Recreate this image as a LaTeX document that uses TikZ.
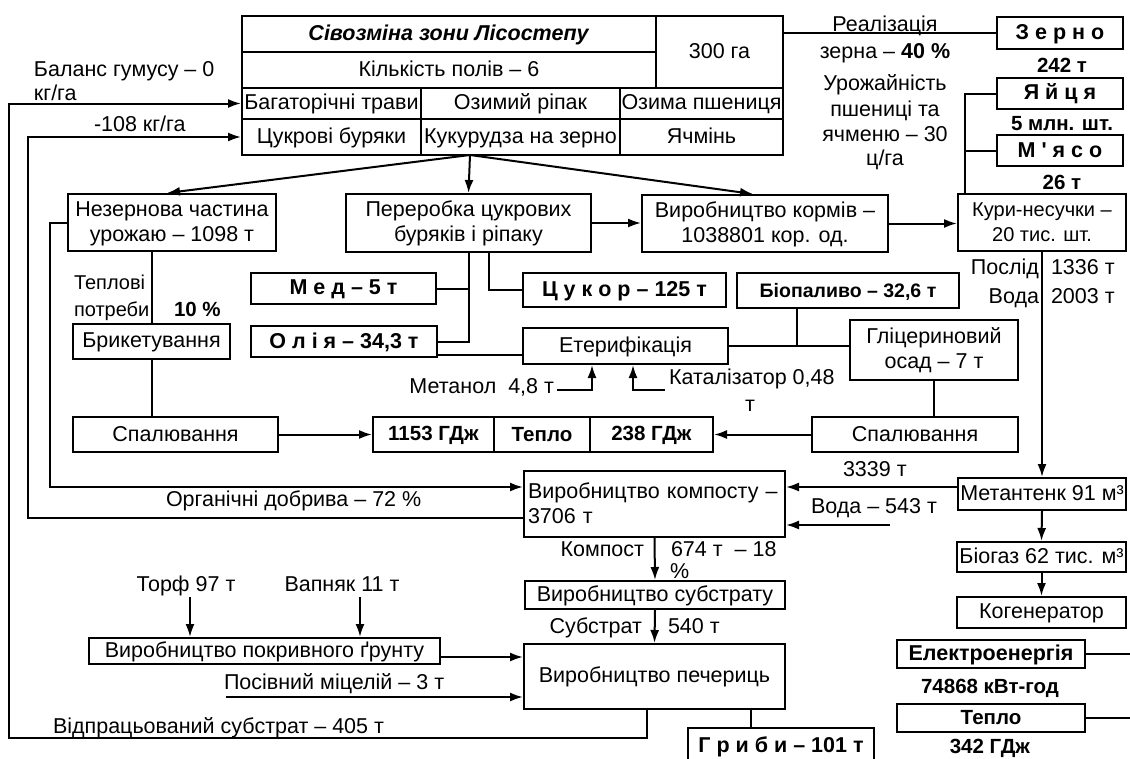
\documentclass[tikz,border=0pt]{standalone}
\usepackage{fontspec}
\setmainfont{Liberation Sans}
\usetikzlibrary{arrows.meta,calc}
\newcommand\stt{\rule[-4pt]{0pt}{21pt}}
\newcommand\fsB{\fontsize{20.5}{25}\selectfont}
\newcommand\fsS{\fontsize{20}{25}\selectfont}
\newcommand\mkbox[7][]{\node[bx,#1,minimum width={#5-#3},minimum height={#6-#4}] (#2) at ({(#3+#5)/2},{(#4+#6)/2}) {\stt #7};}
\begin{document}
\begin{tikzpicture}[x=1pt,y=-1pt, line width=2pt,
  font=\fontsize{21.5}{25}\selectfont,
  bx/.style={draw, inner sep=0pt, align=center},
  lbl/.style={inner sep=0pt, text height=17pt, text depth=4pt},
  arr/.style={-{Latex[length=13pt,width=9pt]}},
]
\useasboundingbox (0,0) rectangle (1130,758);
\clip (0,0) rectangle (1130,758);
% table
\mkbox{t1}{242}{16}{656}{52}{\textbf{\textit{Сівозміна зони Лісостепу}}}
\mkbox{t2}{242}{52}{656}{88}{Кількість полів – 6}
\mkbox{t3}{656}{16}{783}{88}{300 га}
\mkbox{c31}{242}{88}{421}{119}{Багаторічні трави}
\mkbox{c32}{421}{88}{620}{119}{Озимий ріпак}
\mkbox{c33}{620}{88}{783}{119}{Озима пшениця}
\mkbox{c41}{242}{119}{421}{155}{Цукрові буряки}
\mkbox{c42}{421}{119}{620}{155}{Кукурудза на зерно}
\mkbox{c43}{620}{119}{783}{155}{Ячмінь}
% products
\mkbox{zerno}{997}{17}{1123}{49}{\textbf{З е р н о}}
\mkbox{yaj}{997}{78}{1123}{109}{\textbf{Я й ц я}}
\mkbox{myaso}{997}{135}{1123}{166}{\textbf{М \textquotesingle\ я с о}}
% boxes
\mkbox{nez}{68}{194}{276}{251}{Незернова частина\\\stt урожаю – 1098 т}
\mkbox{per}{346}{194}{591}{252}{Переробка цукрових\\\stt буряків і ріпаку}
\mkbox{korm}{642}{195}{888}{252}{Виробництво кормів –\\\stt 1038801 кор. од.}
\mkbox[font=\fsS]{kury}{958}{194}{1126}{251}{Кури-несучки –\\\stt 20 тис. шт.}
\mkbox{med}{251}{273}{436}{304}{\textbf{М е д – 5 т}}
\mkbox{tsuk}{523}{273}{726}{307}{\textbf{Ц у к о р – 125 т}}
\mkbox[font=\fontsize{19.5}{25}\selectfont]{bio}{737}{273}{959}{308}{\textbf{Біопаливо – 32,6 т}}
\mkbox{olia}{251}{326}{437}{357}{\textbf{О л і я – 34,3 т}}
\mkbox{bryk}{73}{324}{230}{359}{Брикетування}
\mkbox{eter}{523}{328}{728}{364}{Етерифікація}
\mkbox{glic}{850}{320}{1018}{380}{Гліцериновий\\\stt осад – 7 т}
\mkbox{spala}{73}{417}{278}{452}{Спалювання}
\mkbox[font=\fsB]{ha}{373}{417}{494}{452}{\textbf{1153 ГДж}}
\mkbox[font=\fsB]{hb}{494}{417}{590}{452}{\textbf{Тепло}}
\mkbox[font=\fsB]{hc}{590}{417}{713}{452}{\textbf{238 ГДж}}
\mkbox{spalb}{812}{417}{1018}{452}{Спалювання}
\mkbox[text width=253pt, align=left, inner xsep=4pt]{komp}{524}{471}{785}{537}{Виробництво компосту –\\\stt 3706 т}
\mkbox{metan}{958}{478}{1126}{510}{Метантенк 91 м³}
\mkbox{subst}{525}{581}{785}{609}{Виробництво субстрату}
\mkbox{pokr}{89}{638}{440}{664}{Виробництво покривного ґрунту}
\mkbox{pech}{524}{644}{785}{709}{Виробництво печериць}
\mkbox{biogaz}{957}{542}{1126}{572}{Біогаз 62 тис. м³}
\mkbox{kogen}{957}{597}{1126}{628}{Когенератор}
\mkbox{elek}{897}{640}{1085}{668}{\textbf{Електроенергія}}
\mkbox[font=\fsB]{teplob}{897}{704}{1085}{732}{\textbf{Тепло}}
\mkbox{hryby}{688}{728}{874}{764}{\textbf{Г р и б и – 101 т}}
% labels
\node[lbl,anchor=west] (bal1) at (33,70) {Баланс гумусу – 0};
\node[lbl,anchor=west] (bal2) at (33,94) {кг/га};
\node[lbl,anchor=west] (bal3) at (93,125) {-108 кг/га};
\node[lbl] (real1) at (885,25) {Реалізація};
\node[lbl] (real2) at (885,52) {зерна – \textbf{40 \%}};
\node[lbl] (uro1) at (885,84) {Урожайність};
\node[lbl] (uro2) at (885,110) {пшениці та};
\node[lbl] (uro3) at (885,135) {ячменю – 30};
\node[lbl] (uro4) at (885,159) {ц/га};
\node[lbl,font=\fsB] (l242) at (1062,66) {\textbf{242 т}};
\node[lbl,font=\fsB] (l5mln) at (1062,124) {\textbf{5 млн. шт.}};
\node[lbl,font=\fsB] (l26) at (1062,183) {\textbf{26 т}};
\node[lbl,anchor=west,font=\fsS] (tep1) at (73,283) {Теплові};
\node[lbl,anchor=west,font=\fsS] (tep2) at (73,310) {потреби};
\node[lbl,anchor=west,font=\fsB] (tep3) at (173,310) {\textbf{10 \%}};
\node[lbl,anchor=west] (org) at (165,500) {Органічні добрива – 72 \%};
\node[lbl,anchor=east] (metl) at (555,387) {Метанол\ \ 4,8 т};
\node[lbl,anchor=west] (katl) at (668,378) {Каталізатор 0,48};
\node[lbl] (katt) at (750,405) {т};
\node[lbl,anchor=east] (posl) at (1040,268) {Послід};
\node[lbl,anchor=west] (posn) at (1050,268) {1336 т};
\node[lbl,anchor=east] (vod1) at (1040,297) {Вода};
\node[lbl,anchor=west] (vodn) at (1050,297) {2003 т};
\node[lbl,anchor=west] (l3339) at (842,470) {3339 т};
\node[lbl,anchor=west] (vod2) at (810,507) {Вода – 543 т};
\node[lbl,anchor=east] (kompl) at (645,550) {Компост};
\node[lbl,anchor=west] (kompn) at (670,550) {674 т\ \ – 18};
\node[lbl,anchor=west,text height=13pt,text depth=0pt] (kompp) at (669,572) {\%};
\node[lbl,anchor=east] (subl) at (643,627) {Субстрат};
\node[lbl,anchor=west] (subn) at (667,627) {540 т};
\node[lbl] (torfl) at (186,585) {Торф 97 т};
\node[lbl] (vapl) at (342,585) {Вапняк 11 т};
\node[lbl,anchor=west] (posiv) at (223,683) {Посівний міцелій – 3 т};
\node[lbl,anchor=west] (vidp) at (52,727) {Відпрацьований субстрат – 405 т};
\node[lbl,font=\fsB] (l74868) at (990,687) {\textbf{74868 кВт-год}};
\node[lbl,font=\fsB] (l342) at (990,747) {\textbf{342 ГДж}};
% connectors
\coordinate (split) at (470,155);
\draw[arr] (split) -- ([xshift=-5]nez.north);
\draw[arr] (split) -- (per.north);
\draw[arr] (split) -- ([xshift=-12]korm.north);
\draw[arr] (per.east) -- (per.east -| korm.west);
\draw[arr] (korm.east) -- (korm.east -| kury.west);
\draw (t3.east |- zerno.west) -- (zerno.west);
\coordinate (kt) at ([xshift=8]kury.north west);
\draw (kt) |- (yaj.west);
\draw (kt |- myaso.west) -- (myaso.west);
\draw[arr] (nez.west) -| (50,487) -- ([yshift=17]komp.west);
\draw[arr] ([yshift=-14]komp.west) -| (28,137) -- (c41.west);
\draw[arr] ([xshift=-8]pech.south) |- (9,738) -- (9,103.5) -- (c31.west);
\draw (bryk.north) -- (bryk.north |- nez.south);
\draw (bryk.south) -- (bryk.south |- spala.north);
\draw[arr] (spala.east) -- (ha.west);
\draw[arr] (spalb.west) -- (hc.east);
\draw (glic.south) -- (glic.south |- spalb.north);
\draw (eter.east) -- (eter.east -| glic.west);
\coordinate (bj) at ([xshift=-51]bio.south);
\draw (bj) -- (bj |- eter.east);
\coordinate (pt) at ([xshift=20]per.south);
\draw (pt) |- (tsuk.west);
\draw (per.south) |- (olia.east);
\draw (med.east) -- (med.east -| per.south);
\coordinate (oe) at ([yshift=-13]olia.east);
\draw (oe) -- (oe -| eter.west);
\coordinate (mt) at (557,390);
\draw[arr] (mt) -| ([xshift=-33.5]eter.south);
\coordinate (kt2) at (665,390);
\draw[arr] (kt2) -| ([xshift=7.5]eter.south);
\draw[arr] (kury.south) -- (metan.north);
\coordinate (mw) at ([yshift=7]metan.west);
\draw[arr] (mw) -- (mw -| komp.east);
\coordinate (vw) at (890,525);
\draw[arr] (vw) -- (vw -| komp.east);
\draw[arr] (komp.south) -- (subst.north);
\draw[arr] (subst.south) -- (pech.north);
\coordinate (pk) at ([yshift=-6]pokr.east);
\draw[arr] (pk) -- (pk -| pech.west);
\coordinate (tf) at (190,597);
\draw[arr] (tf) -- (tf |- pokr.north);
\coordinate (vp) at (360,597);
\draw[arr] (vp) -- (vp |- pokr.north);
\coordinate (ps) at (226,697);
\draw[arr] (ps) -- (ps -| pech.west);
\coordinate (hb2) at ([xshift=96.5]pech.south);
\draw (hb2) -- (hb2 |- hryby.north);
\draw[arr] (metan.south) -- (biogaz.north);
\draw[arr] (biogaz.south) -- (kogen.north);
\coordinate (ee) at (1132,654);
\draw (elek.east) -- (ee);
\coordinate (te) at (1132,718);
\draw (teplob.east) -- (te);
\end{tikzpicture}
\end{document}
